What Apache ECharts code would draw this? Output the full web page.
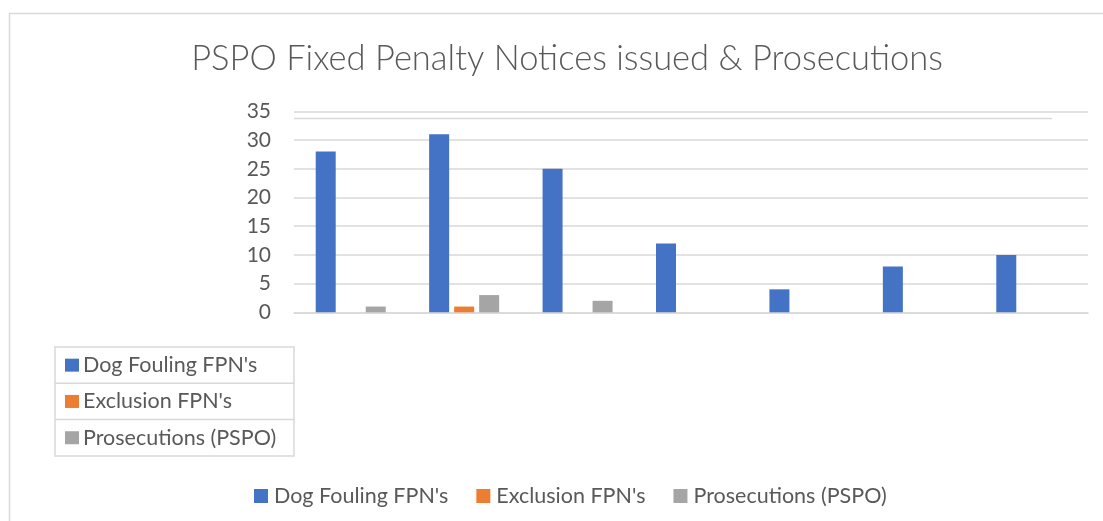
<!DOCTYPE html>
<html><head><meta charset="utf-8">
<script src="https://cdn.jsdelivr.net/npm/echarts@6/dist/echarts.min.js"></script>
<style>html,body{margin:0;padding:0;background:#fff}#c{width:1103px;height:521px}</style>
</head><body><div id="c"></div>
<script>
var categories = ['1','2','3','4','5','6','7'];
var seriesNames = ["Dog Fouling FPN's", "Exclusion FPN's", "Prosecutions (PSPO)"];
var dogFouling = [28, 31, 25, 12, 4, 8, 10];
var exclusion = [0, 1, 0, 0, 0, 0, 0];
var prosecutions = [1, 3, 2, 0, 0, 0, 0];
var yTicks = [0, 5, 10, 15, 20, 25, 30, 35];
var colors = ['#4472c4', '#ed7d31', '#a5a5a5'];
var FONT = 'Lato';
var TXT = '#595959';

var chart = echarts.init(document.getElementById('c'));
var seriesData = [dogFouling, exclusion, prosecutions];

var tableGraphics = [];
var rowTop = 347, rowH = 36.3, tLeft = 55, tRight = 294;
tableGraphics.push({type:'rect', shape:{x:tLeft, y:rowTop, width:tRight-tLeft, height:rowH*3},
  style:{fill:'none', stroke:'#d9d9d9', lineWidth:1.5}, silent:true});
for (var i = 1; i < 3; i++) {
  tableGraphics.push({type:'line', shape:{x1:tLeft, y1:rowTop+rowH*i, x2:tRight, y2:rowTop+rowH*i},
    style:{stroke:'#d9d9d9', lineWidth:1.5}, silent:true});
}
seriesNames.forEach(function(n, i){
  var cy = rowTop + rowH*i + rowH/2;
  tableGraphics.push({type:'rect', shape:{x:65, y:cy-6.5, width:14, height:13}, style:{fill:colors[i]}, silent:true});
  tableGraphics.push({type:'text', x:83, y:cy, style:{text:n, fill:TXT, font:'21.5px ' + FONT, textVerticalAlign:'middle'}, silent:true});
});
// frame
tableGraphics.push({type:'polyline', shape:{points:[[9.5,521],[9.5,13.5],[1103,13.5]]}, style:{stroke:'#d9d9d9', lineWidth:1.5, fill:'none'}, silent:true});
tableGraphics.push({type:'line', shape:{x1:294, y1:118.5, x2:1052, y2:118.5}, style:{stroke:'#d9d9d9', lineWidth:1.5}, silent:true});

chart.setOption({
  animation:false,
  color: colors,
  title:{text:'PSPO Fixed Penalty Notices issued & Prosecutions', left:562, textAlign:'center', top:36,
    textStyle:{fontFamily:FONT, fontSize:34.5, fontWeight:300, color:TXT}},
  legend:{top:480, left:249, itemWidth:14, itemHeight:14, itemGap:28, icon:'rect',
    textStyle:{fontFamily:FONT, fontSize:21.5, color:TXT, padding:[0,0,0,1]}, data:seriesNames},
  grid:{left:294, right:15, top:111.4, bottom:208.7, containLabel:false},
  xAxis:{type:'category', data:categories, axisLabel:{show:false}, axisTick:{show:false},
    axisLine:{lineStyle:{color:'#d9d9d9', width:1.5}}},
  yAxis:{type:'value', min:0, max:35, interval:5,
    axisLabel:{fontFamily:FONT, fontSize:21, color:TXT, margin:23, formatter:function(v){return yTicks.indexOf(v)>=0?String(v):'';}},
    axisLine:{show:false}, axisTick:{show:false},
    splitLine:{lineStyle:{color:'#d9d9d9', width:1.5}}},
  series: seriesNames.map(function(n, i){
    return {name:n, type:'bar', data:seriesData[i], barWidth:20, barGap:'25%', itemStyle:{color:colors[i]}};
  }),
  graphic: tableGraphics
});
</script></body></html>
